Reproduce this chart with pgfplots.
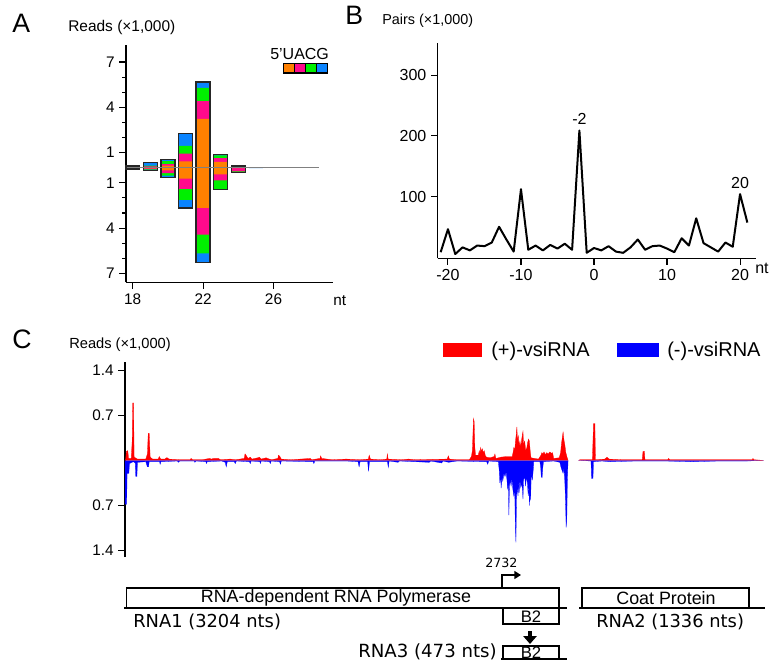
\documentclass[border=0pt]{standalone}
\usepackage{fontspec}
\setmainfont{Liberation Sans}
\newfontfamily\dejavu{DejaVu Sans}
\usepackage{pgfplots}
\pgfplotsset{compat=1.18}
\usetikzlibrary{arrows.meta}
\definecolor{cU}{HTML}{FF8000}
\definecolor{cA}{HTML}{FF0A8C}
\definecolor{cC}{HTML}{00F000}
\definecolor{cG}{HTML}{0A84FF}
\pgfplotsset{
  myaxis/.style={scale only axis, axis x line*=bottom, axis y line*=left,
    tick align=outside, major tick length=5pt, minor tick length=3pt,
    tick style={black, line width=0.8pt}, axis line style={line width=0.9pt},
    /pgf/number format/assume math mode=true,
    ticklabel style={font=\fontsize{11.5}{13}\selectfont}, clip=false, anchor=south west},
  mybar/.style={ybar, bar width=0.8, bar shift=0pt, draw=none},
}
\begin{document}
\begin{tikzpicture}
\path[use as bounding box] (0,0) rectangle (578.25pt,-498pt);
% ---------------- Panel A
\begin{axis}[myaxis, at={(94.5pt,-211.7pt)}, width=155pt, height=178pt,
  xmin=17.62, xmax=29.36, ymin=-7.59, ymax=8.13,
  xtick={18,22,26}, ytick={-7,-4,-1,1,4,7}, yticklabels={7,4,1,1,4,7},
  minor ytick={-6,-5,-3,-2,2,3,5,6}]
\addplot[mybar, fill=cG] coordinates {(18,0.10)(19,0.36)(20,0.56)(21,2.27)(22,5.67)(23,0.87)(24,0.11)(25,0.03)(26,0.015)(27,0.015)(28,0.015)};
\addplot[mybar, fill=cG] coordinates {(18,-0.08)(19,-0.18)(20,-0.64)(21,-2.67)(22,-6.29)(23,-1.44)(24,-0.33)(25,-0.03)(26,-0.015)(27,-0.015)(28,-0.015)};
\addplot[mybar, fill=cC] coordinates {(18,0.08)(19,0.13)(20,0.44)(21,1.44)(22,5.29)(23,0.82)(24,0.10)(25,0.015)};
\addplot[mybar, fill=cC] coordinates {(18,-0.06)(19,-0.13)(20,-0.53)(21,-2.13)(22,-5.67)(23,-1.40)(24,-0.27)(25,-0.015)};
\addplot[mybar, fill=cA] coordinates {(18,0.06)(19,0.08)(20,0.24)(21,0.93)(22,4.40)(23,0.64)(24,0.09)(25,0.01)};
\addplot[mybar, fill=cA] coordinates {(18,-0.05)(19,-0.10)(20,-0.36)(21,-1.40)(22,-4.44)(23,-0.84)(24,-0.25)(25,-0.01)};
\addplot[mybar, fill=cU] coordinates {(18,0.04)(19,0.04)(20,0.13)(21,0.42)(22,3.24)(23,0.38)(24,0.02)(25,0.005)};
\addplot[mybar, fill=cU] coordinates {(18,-0.03)(19,-0.05)(20,-0.18)(21,-0.73)(22,-2.67)(23,-0.44)(24,-0.03)(25,-0.005)};
\addplot[ybar, bar width=0.8, bar shift=0pt, draw=black!85, fill=none, line width=1pt] coordinates {(18,0.10)(19,0.36)(20,0.56)(21,2.27)(22,5.67)(23,0.87)(24,0.11)};
\addplot[ybar, bar width=0.8, bar shift=0pt, draw=black!85, fill=none, line width=1pt] coordinates {(18,-0.08)(19,-0.18)(20,-0.64)(21,-2.67)(22,-6.29)(23,-1.44)(24,-0.33)};
\addplot[gray, line width=0.6pt] coordinates {(17.7,0)(28.6,0)};
\end{axis}
% ---------------- Panel B
\begin{axis}[myaxis, at={(328.3pt,-193.7pt)}, width=238.5pt, height=161.7pt,
  xmin=-21.4, xmax=22.15, ymin=-2, ymax=354,
  ticklabel style={font=\fontsize{12}{14}\selectfont},
  xtick={-20,-10,0,10,20}, xticklabels={-20,-10,0,10,20}, ytick={100,200,300}]
\addplot[black, line width=1.5pt, line join=round] coordinates {(-21,8)(-20,46)(-19,5)(-18,16)(-17,11)(-16,19)(-15,18)(-14,24)(-13,50)(-12,29)(-11,9)(-10,112)(-9,12)(-8,19)(-7,11)(-6,20)(-5,14)(-4,22)(-3,12)(-2,209)(-1,7)(0,15)(1,11)(2,18)(3,9)(4,7)(5,16)(6,29)(7,12)(8,18)(9,19)(10,14)(11,8)(12,31)(13,19)(14,64)(15,23)(16,16)(17,9)(18,24)(19,17)(20,104)(21,57)};
\node[font=\fontsize{12}{14}\selectfont] at (axis cs:-2,228) {-2};
\node[font=\fontsize{12}{14}\selectfont] at (axis cs:20,123) {20};
\end{axis}
% ---------------- Panel C
\begin{axis}[scale only axis, anchor=south west, at={(93.75pt,-417.75pt)}, width=480.4pt, height=146.5pt,
  axis y line*=left, axis x line=none, tick align=outside, major tick length=5pt,
  tick style={black, line width=0.8pt}, axis line style={line width=0.9pt},
  ticklabel style={font=\fontsize{11.5}{13}\selectfont}, clip=false,
  xmin=0, xmax=4632, ymin=-1.498, ymax=1.53,
  ytick={-1.4,-0.7,0.7,1.4}, yticklabels={1.4,0.7,0.7,1.4}]
% (-) strand, RNA1
\addplot[fill=blue, draw=blue, line width=0.2pt] coordinates {(0,0)(0,-0.68)(12,-0.68)(15,-0.2)(28,-0.2)(32,-0.05)(60,-0.02)(74,-0.04)(78,-0.25)(86,-0.25)(90,-0.03)(150,-0.02)(162,-0.1)(170,-0.1)(175,-0.02)(250,-0.02)(254,-0.06)(260,-0.02)(380,-0.01)(385,-0.03)(395,-0.01)(500,-0.01)(505,-0.03)(515,-0.01)(585,-0.02)(589,-0.05)(595,-0.02)(700,-0.01)(725,-0.03)(732,-0.1)(740,-0.02)(790,-0.02)(797,-0.05)(805,-0.01)(900,-0.02)(906,-0.05)(912,-0.01)(975,-0.02)(979,-0.05)(985,-0.01)(1045,-0.02)(1051,-0.05)(1057,-0.01)(1118,-0.02)(1124,-0.06)(1130,-0.01)(1360,-0.02)(1366,-0.05)(1372,-0.01)(1500,-0.01)(1600,-0.01)(1685,-0.02)(1693,-0.1)(1700,-0.02)(1755,-0.02)(1761,-0.17)(1768,-0.02)(1898,-0.02)(1904,-0.11)(1910,-0.01)(1975,-0.03)(1985,-0.01)(2200,-0.03)(2210,-0.01)(2290,-0.04)(2300,-0.01)(2340,-0.03)(2400,-0.01)(2615,-0.02)(2623,-0.06)(2630,-0.01)(2700,-0.02)(2706,-0.15)(2711,-0.35)(2716,-0.2)(2720,-0.43)(2726,-0.25)(2732,-0.32)(2740,-0.2)(2748,-0.25)(2756,-0.18)(2762,-0.3)(2768,-0.45)(2772,-0.3)(2776,-0.85)(2780,-0.4)(2786,-0.3)(2792,-0.4)(2798,-0.28)(2805,-0.45)(2812,-0.55)(2818,-0.4)(2822,-0.95)(2827,-1.27)(2831,-0.6)(2836,-0.4)(2842,-0.55)(2846,-0.3)(2850,-0.5)(2856,-0.3)(2862,-0.42)(2868,-0.35)(2874,-0.45)(2878,-0.6)(2882,-0.3)(2890,-0.25)(2897,-0.4)(2903,-0.25)(2910,-0.35)(2916,-0.55)(2921,-0.4)(2925,-0.7)(2929,-0.45)(2933,-0.62)(2938,-0.2)(2946,-0.3)(2952,-0.15)(2956,-0.02)(3000,-0.02)(3006,-0.1)(3010,-0.25)(3016,-0.27)(3021,-0.12)(3026,-0.02)(3100,-0.01)(3145,-0.03)(3152,-0.1)(3160,-0.15)(3168,-0.2)(3174,-0.12)(3180,-0.3)(3186,-0.65)(3190,-1.04)(3195,-0.9)(3199,-0.3)(3204,0)};
% (-) strand, RNA2
\addplot[fill=blue, draw=blue, line width=0.2pt] coordinates {(3280,0)(3370,-0.01)(3374,-0.28)(3384,-0.28)(3388,-0.02)(3450,-0.01)(3500,-0.02)(3700,-0.01)(3900,-0.01)(4100,-0.02)(4300,-0.01)(4500,-0.01)(4616,0)};
% (+) strand, RNA1
\addplot[fill=red, draw=red, line width=0.2pt] coordinates {(0,0)(5,0.02)(10,0.14)(20,0.15)(26,0.03)(45,0.03)(52,0.3)(56,0.89)(62,0.89)(66,0.05)(90,0.02)(150,0.02)(162,0.1)(168,0.42)(175,0.42)(182,0.05)(200,0.02)(240,0.02)(248,0.06)(258,0.02)(290,0.02)(298,0.04)(306,0.04)(318,0.02)(400,0.01)(470,0.01)(478,0.03)(490,0.01)(560,0.01)(610,0.03)(625,0.02)(640,0.03)(676,0.03)(690,0.01)(760,0.02)(800,0.01)(862,0.03)(868,0.1)(878,0.07)(890,0.03)(906,0.05)(918,0.02)(960,0.04)(972,0.05)(985,0.02)(1020,0.04)(1030,0.03)(1060,0.01)(1105,0.03)(1110,0.08)(1120,0.06)(1130,0.02)(1200,0.01)(1340,0.03)(1350,0.01)(1410,0.03)(1415,0.07)(1422,0.03)(1500,0.01)(1600,0.02)(1700,0.01)(1760,0.02)(1766,0.08)(1775,0.02)(1850,0.01)(1893,0.02)(1897,0.1)(1903,0.02)(2000,0.01)(2050,0.02)(2100,0.01)(2330,0.02)(2338,0.07)(2346,0.02)(2400,0.01)(2490,0.01)(2505,0.06)(2512,0.15)(2516,0.4)(2520,0.65)(2525,0.6)(2530,0.2)(2535,0.08)(2555,0.08)(2562,0.15)(2567,0.1)(2572,0.2)(2578,0.14)(2584,0.18)(2590,0.12)(2598,0.15)(2606,0.07)(2615,0.05)(2640,0.04)(2670,0.06)(2675,0.1)(2682,0.03)(2720,0.05)(2760,0.06)(2800,0.06)(2806,0.12)(2812,0.2)(2818,0.15)(2824,0.3)(2830,0.42)(2834,0.52)(2838,0.3)(2844,0.38)(2850,0.22)(2856,0.3)(2862,0.2)(2868,0.32)(2874,0.4)(2878,0.45)(2882,0.25)(2890,0.3)(2898,0.15)(2906,0.2)(2912,0.28)(2918,0.33)(2924,0.3)(2930,0.15)(2936,0.04)(2990,0.02)(3008,0.08)(3014,0.12)(3022,0.1)(3030,0.13)(3040,0.09)(3050,0.12)(3060,0.1)(3072,0.13)(3085,0.11)(3092,0.12)(3100,0.03)(3140,0.04)(3150,0.12)(3156,0.25)(3162,0.35)(3168,0.44)(3174,0.32)(3180,0.25)(3188,0.12)(3195,0.06)(3204,0)};
% (+) strand, RNA2
\addplot[fill=red, draw=red, line width=0.2pt] coordinates {(3280,0)(3290,0.01)(3380,0.01)(3388,0.57)(3398,0.57)(3402,0.01)(3470,0.02)(3485,0.05)(3500,0.02)(3600,0.01)(3740,0.01)(3746,0.14)(3756,0.14)(3760,0.01)(3925,0.01)(3931,0.03)(3940,0.01)(4100,0.01)(4300,0.01)(4535,0.01)(4541,0.03)(4548,0.01)(4616,0)};
\end{axis}
% ---------------- texts and genome map (pixel units)
\begin{scope}[x=0.75pt,y=-0.75pt]
\node[anchor=base west, inner sep=0, font=\fontsize{20}{22}\selectfont] at (12,32) {A};
\node[anchor=base west, inner sep=0, font=\fontsize{11.6}{13}\selectfont] at (68,31.7) {Reads (×1,000)};
\node[anchor=base west, inner sep=0, font=\fontsize{20}{22}\selectfont] at (345,24.5) {B};
\node[anchor=base west, inner sep=0, font=\fontsize{10.8}{13}\selectfont] at (382,24) {Pairs (×1,000)};
\node[anchor=base west, inner sep=0, font=\fontsize{20}{22}\selectfont] at (12,348.5) {C};
\node[anchor=base west, inner sep=0, font=\fontsize{11}{13}\selectfont] at (69,348) {Reads (×1,000)};
\node[anchor=base west, inner sep=0, font=\fontsize{11.5}{13}\selectfont] at (333,305) {nt};
\node[anchor=base west, inner sep=0, font=\fontsize{12}{14}\selectfont] at (755,273) {nt};
% legend A
\node[anchor=base west, inner sep=0, font=\fontsize{12}{13}\selectfont] at (270,59) {5'UACG};
\fill[cU, draw=black, line width=1pt] (283.5,63.5) rectangle (294.5,73);
\fill[cA, draw=black, line width=1pt] (294.5,63.5) rectangle (305.5,73);
\fill[cC, draw=black, line width=1pt] (305.5,63.5) rectangle (316.5,73);
\fill[cG, draw=black, line width=1pt] (316.5,63.5) rectangle (327.5,73);
% legend C
\fill[red] (443,343) rectangle (482,357);
\node[anchor=base west, inner sep=0, font=\fontsize{15}{17}\selectfont] at (491,356) {(+)-vsiRNA};
\fill[blue] (617,343) rectangle (659,357);
\node[anchor=base west, inner sep=0, font=\fontsize{15}{17}\selectfont] at (667,356) {(-)-vsiRNA};
% genome map
\draw[line width=0.9pt] (126.5,588) rectangle (559,608);
\draw[line width=0.9pt] (124,608) -- (567,608);
\node[font=\fontsize{13.4}{15}\selectfont, inner sep=0] at (336,598) {RNA-dependent RNA Polymerase};
\draw[line width=1.2pt, -{Triangle[length=5pt,width=6pt]}] (502,588) -- (502,575) -- (521,575);
\node[anchor=base west, inner sep=0, font=\dejavu\fontsize{9.5}{11}\selectfont] at (485,567) {2732};
\draw[line width=0.9pt] (503,608) -- (503,624) -- (559,624) -- (559,608);
\node[font=\fontsize{12.5}{14}\selectfont, inner sep=0] at (531,616.5) {B2};
\node[anchor=base west, inner sep=0, font=\dejavu\fontsize{13.4}{15}\selectfont] at (133,627) {RNA1 (3204 nts)};
\draw[line width=3pt, -{Triangle[length=6pt,width=10pt]}] (530,631) -- (530,644);
\draw[line width=0.9pt] (503,646) rectangle (559,659);
\draw[line width=1.2pt] (501,659) -- (567,659);
\node[font=\fontsize{12.5}{14}\selectfont, inner sep=0] at (531,653) {B2};
\node[anchor=base east, inner sep=0, font=\dejavu\fontsize{13.6}{15}\selectfont] at (497,657) {RNA3 (473 nts)};
\draw[line width=0.9pt] (582,588) rectangle (749,608);
\draw[line width=0.9pt] (579,608) -- (765,608);
\node[font=\fontsize{13.4}{15}\selectfont, inner sep=0] at (666,598) {Coat Protein};
\node[anchor=base west, inner sep=0, font=\dejavu\fontsize{13.4}{15}\selectfont] at (596,627) {RNA2 (1336 nts)};
\end{scope}
\end{tikzpicture}
\end{document}
